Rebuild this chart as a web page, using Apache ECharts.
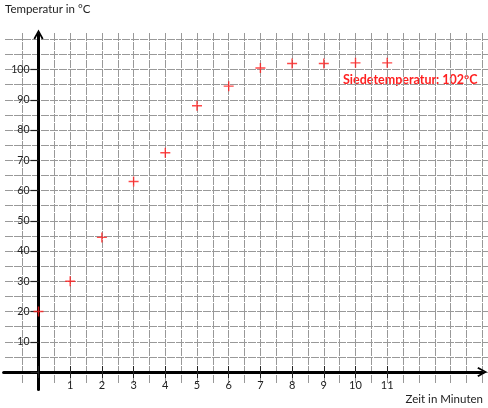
<!DOCTYPE html>
<html><head><meta charset="utf-8">
<script src="https://cdn.jsdelivr.net/npm/echarts@6/dist/echarts.min.js"></script>
<style>html,body{margin:0;padding:0;background:#fff}#c{width:488px;height:408px}</style>
</head><body><div id="c"></div>
<script>
// ---- data ----
const minutes = [0, 1, 2, 3, 4, 5, 6, 7, 8, 9, 10, 11];
const temperatures = [20, 30, 44.5, 63, 72.5, 88, 94.5, 100.5, 102, 102, 102.2, 102.2];
const xTickLabels = ['1', '2', '3', '4', '5', '6', '7', '8', '9', '10', '11'];
const yTickLabels = ['10', '20', '30', '40', '50', '60', '70', '80', '90', '100'];
const yTitle = 'Temperatur in °C';
const xTitle = 'Zeit in Minuten';
const noteText = 'Siedetemperatur: 102°C';

// ---- layout (pixel scale) ----
const W = 488, H = 408;
const X0 = 38.5, SX = 31.7;   // px of x=0, px per minute
const Y0 = 372, SY = 3.025;   // px of y=0, px per degree
const px = v => X0 + v * SX;
const py = v => Y0 - v * SY;

const FONT = 'Lato, "Open Sans", sans-serif';
const gridColor = '#999';

function colorsSkipFirst(n) {
  const a = ['rgba(0,0,0,0)'];
  for (let i = 1; i < n; i++) a.push(gridColor);
  return a;
}

const plus = 'path://M0,4.3H10V5.7H0Z M4.3,0H5.7V10H4.3Z';
const chevron = 'path://M5,0 L10,9 L8.4,10 L5,3.4 L1.6,10 L0,9 Z';

const hidden = { show: false };
const noAxis = { axisLine: hidden, axisTick: hidden, axisLabel: hidden, splitLine: hidden };

const option = {
  animation: false,
  backgroundColor: '#fff',
  grid: [
    // 0: horizontal grid lines
    { left: 5, right: 0, top: py(110), bottom: H - py(-5) },
    // 1: vertical grid lines
    { left: px(-1), right: W - px(14), top: 33, bottom: H - 383 },
    // 2: axis lines with arrows
    { left: px(-1.1), right: W - px(14), top: py(111.6), bottom: H - py(-5.8) },
    // 3: ticks, labels, data
    { left: px(0), right: W - px(11), top: py(100), bottom: H - py(0) }
  ],
  xAxis: [
    Object.assign({ type: 'value', gridIndex: 0, min: 0, max: 1 }, noAxis),
    Object.assign({ type: 'value', gridIndex: 1, min: -1, max: 14, interval: 0.5 }, noAxis, {
      splitLine: { show: true, lineStyle: { color: colorsSkipFirst(40), width: 1, type: [8, 1] } }
    }),
    Object.assign({ type: 'value', gridIndex: 2, min: -1.1, max: 14 }, noAxis, {
      axisLine: { show: true, onZero: true, symbol: ['none', chevron], symbolSize: [10, 10],
        lineStyle: { color: '#000', width: 3 } }
    }),
    {
      type: 'value', gridIndex: 3, min: 0, max: 11, interval: 1, position: 'bottom',
      axisLine: hidden, splitLine: hidden,
      axisTick: { show: true, length: 6, lineStyle: { color: '#222', width: 1 } },
      axisLabel: { show: true, margin: 8, color: '#222', fontFamily: FONT, fontSize: 11,
        formatter: v => { const i = Math.round(v) - 1; return (i >= 0 && i < xTickLabels.length) ? xTickLabels[i] : ''; } }
    },
    {
      type: 'value', gridIndex: 3, min: 0, max: 11, interval: 1, position: 'bottom',
      axisLine: hidden, splitLine: hidden, axisLabel: hidden,
      axisTick: { show: true, inside: true, length: 6, lineStyle: { color: '#222', width: 1 } }
    }
  ],
  yAxis: [
    Object.assign({ type: 'value', gridIndex: 0, min: -5, max: 110, interval: 5 }, noAxis, {
      splitLine: { show: true, lineStyle: { color: colorsSkipFirst(40), width: 1, type: [8, 1] } }
    }),
    Object.assign({ type: 'value', gridIndex: 1, min: 0, max: 1 }, noAxis),
    Object.assign({ type: 'value', gridIndex: 2, min: -5.8, max: 111.6 }, noAxis, {
      axisLine: { show: true, onZero: true, symbol: ['none', chevron], symbolSize: [10, 10],
        lineStyle: { color: '#000', width: 3 } }
    }),
    {
      type: 'value', gridIndex: 3, min: 0, max: 100, interval: 10,
      axisLine: hidden, splitLine: hidden,
      axisTick: { show: true, length: 8, lineStyle: { color: '#222', width: 1.2 } },
      axisLabel: { show: true, margin: 9, color: '#222', fontFamily: FONT, fontSize: 10.5,
        formatter: v => { const i = Math.round(v / 10) - 1; return (i >= 0 && i < yTickLabels.length) ? yTickLabels[i] : ''; } }
    }
  ],
  graphic: [
    { type: 'text', left: 5, top: 3, style: { text: yTitle, fill: '#222', font: '11.5px ' + FONT } },
    { type: 'text', right: 5, top: 393, style: { text: xTitle, fill: '#222', font: '11.5px ' + FONT } },
    { type: 'text', left: 343, top: 73, style: { text: noteText, fill: '#ff2020', font: 'bold 12.5px ' + FONT } }
  ],
  series: [{
    type: 'scatter',
    xAxisIndex: 3, yAxisIndex: 3,
    clip: false,
    symbol: plus,
    symbolSize: 10,
    itemStyle: { color: '#ff1a1a' },
    z: 10,
    data: minutes.map((m, i) => [m, temperatures[i]])
  }]
};

const chart = echarts.init(document.getElementById('c'), null, { renderer: 'canvas' });
chart.setOption(option);
</script>
</body></html>
